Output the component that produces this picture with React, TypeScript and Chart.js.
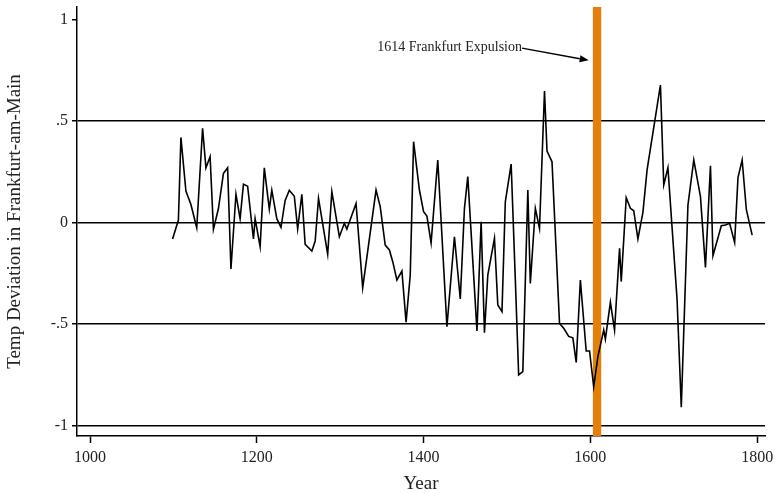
import React, { useEffect, useRef } from 'react';
import { Chart, registerables } from 'chart.js';

Chart.register(...registerables);

// ---- data ----
const years = [
  1099, 1106, 1109, 1115, 1121, 1128, 1135, 1139, 1144, 1148,
  1154, 1160, 1165, 1169, 1175, 1180, 1184, 1189, 1196, 1198,
  1204, 1209, 1215, 1218, 1224, 1229, 1234, 1239, 1245, 1249,
  1254, 1258, 1266, 1270, 1274, 1285, 1290, 1299, 1305, 1308,
  1319, 1327, 1343, 1348, 1354, 1359, 1363, 1368, 1374, 1379,
  1384, 1388, 1395, 1400, 1404, 1409, 1417, 1428, 1437, 1444,
  1449, 1453, 1464, 1469, 1473, 1477, 1485, 1489, 1494, 1498,
  1505, 1510, 1514, 1519, 1525, 1528, 1534, 1539, 1545, 1548,
  1554, 1563, 1568, 1574, 1579, 1583, 1588, 1595, 1599, 1604,
  1609, 1616, 1618, 1624, 1629, 1635, 1637, 1643, 1648, 1652,
  1657, 1663, 1668, 1684, 1688, 1693, 1704, 1709, 1717, 1724,
  1732, 1738, 1744, 1747, 1757, 1762, 1767, 1773, 1777, 1782,
  1787, 1794,
];
const temps = [
  -0.08, 0.013, 0.42, 0.156, 0.09, -0.025, 0.465, 0.27, 0.325, -0.033,
  0.07, 0.243, 0.27, -0.228, 0.14, 0.02, 0.19, 0.18, -0.08, 0.02,
  -0.118, 0.27, 0.067, 0.16, 0.02, -0.023, 0.11, 0.16, 0.13, -0.03,
  0.14, -0.107, -0.14, -0.09, 0.12, -0.155, 0.153, -0.069, -0.003, -0.031,
  0.095, -0.32, 0.161, 0.079, -0.11, -0.134, -0.192, -0.282, -0.238, -0.49,
  -0.258, 0.399, 0.161, 0.054, 0.033, -0.099, 0.309, -0.512, -0.069, -0.376,
  0.071, 0.227, -0.533, 0.005, -0.542, -0.258, -0.077, -0.405, -0.438, 0.103,
  0.289, -0.28, -0.75, -0.734, 0.161, -0.299, 0.071, -0.028, 0.649, 0.353,
  0.3, -0.496, -0.52, -0.56, -0.567, -0.688, -0.282, -0.632, -0.632, -0.808,
  -0.66, -0.529, -0.574, -0.392, -0.529, -0.126, -0.29, 0.123, 0.071, 0.059,
  -0.08, 0.051, 0.26, 0.678, 0.186, 0.271, -0.381, -0.909, 0.087, 0.309,
  0.128, -0.22, 0.281, -0.162, -0.015, -0.011, -0.003, -0.098, 0.222, 0.309,
  0.066, -0.061,
];
const xTicks = [1000, 1200, 1400, 1600, 1800];
const yTicks = [-1, -0.5, 0, 0.5, 1];
const yTickLabels = ['-1', '-.5', '0', '.5', '1'];
const noGridAt = [1];
const eventBand = [1603, 1613];
const eventLabel = '1614 Frankfurt Expulsion';
const arrowFrom = [1518, 0.86];
const arrowTo = [1598, 0.8];

const FONT = "'Liberation Serif', 'DejaVu Serif', serif";
const TEXT = '#222';
const ORANGE = 'rgb(228,128,10)';

const annotationPlugin = {
  id: 'expulsion',
  beforeDatasetsDraw(chart: any) {
    const { ctx, chartArea, scales } = chart;
    const x0 = scales.x.getPixelForValue(eventBand[0]);
    const x1 = scales.x.getPixelForValue(eventBand[1]);
    ctx.save();
    ctx.fillStyle = ORANGE;
    ctx.fillRect(x0, chartArea.top, x1 - x0, chartArea.bottom - chartArea.top);
    ctx.restore();
  },
  afterDatasetsDraw(chart: any) {
    const { ctx, scales } = chart;
    const ax = scales.x.getPixelForValue(arrowFrom[0]);
    const ay = scales.y.getPixelForValue(arrowFrom[1]);
    const bx = scales.x.getPixelForValue(arrowTo[0]);
    const by = scales.y.getPixelForValue(arrowTo[1]);
    ctx.save();
    ctx.font = `14px ${FONT}`;
    ctx.fillStyle = TEXT;
    ctx.textAlign = 'right';
    ctx.textBaseline = 'middle';
    ctx.fillText(eventLabel, ax, ay - 1);
    ctx.strokeStyle = '#000';
    ctx.lineWidth = 1.5;
    const ang = Math.atan2(by - ay, bx - ax);
    const hl = 9;
    const hw = 3.5;
    const baseX = bx - hl * Math.cos(ang);
    const baseY = by - hl * Math.sin(ang);
    ctx.beginPath();
    ctx.moveTo(ax, ay);
    ctx.lineTo(baseX, baseY);
    ctx.stroke();
    ctx.fillStyle = '#000';
    ctx.beginPath();
    ctx.moveTo(bx, by);
    ctx.lineTo(baseX + hw * Math.sin(ang), baseY - hw * Math.cos(ang));
    ctx.lineTo(baseX - hw * Math.sin(ang), baseY + hw * Math.cos(ang));
    ctx.closePath();
    ctx.fill();
    ctx.restore();
  },
};

export default function App() {
  const ref = useRef<HTMLCanvasElement | null>(null);
  useEffect(() => {
    if (!ref.current) return;
    const chart = new Chart(ref.current, {
      type: 'line',
      data: {
        datasets: [
          {
            data: years.map((y, i) => ({ x: y, y: temps[i] })),
            borderColor: '#000',
            borderWidth: 1.6,
            pointRadius: 0,
            tension: 0,
            fill: false,
          },
        ],
      },
      options: {
        responsive: false,
        animation: false,
        devicePixelRatio: 1,
        layout: { padding: { left: 0, right: 10, top: 7, bottom: 0 } },
        plugins: { legend: { display: false }, tooltip: { enabled: false } },
        scales: {
          x: {
            type: 'linear',
            min: 984.4,
            max: 1809.4,
            afterBuildTicks: (s: any) => {
              s.ticks = xTicks.map((v) => ({ value: v }));
            },
            afterFit: (s: any) => {
              s.height = 58;
              s.paddingLeft = 0;
              s.paddingRight = 0;
            },
            ticks: {
              callback: (v: any) => String(v),
              font: { family: FONT, size: 16 },
              color: TEXT,
              padding: 5,
              maxRotation: 0,
              autoSkip: false,
            },
            grid: {
              drawOnChartArea: false,
              drawTicks: true,
              tickLength: 7,
              tickColor: '#000',
              tickWidth: 1.5,
            },
            border: { color: '#000', width: 1.5 },
            title: {
              display: true,
              text: 'Year',
              font: { family: FONT, size: 19, lineHeight: 1.05 },
              color: TEXT,
              padding: { top: 0, bottom: 0 },
            },
          },
          y: {
            type: 'linear',
            min: -1.0507,
            max: 1.0626,
            afterBuildTicks: (s: any) => {
              s.ticks = yTicks.map((v) => ({ value: v }));
            },
            afterFit: (s: any) => {
              s.width = 77;
              s.paddingTop = 0;
              s.paddingBottom = 0;
            },
            ticks: {
              callback: (v: any) => {
                const i = yTicks.indexOf(Number(v));
                return i >= 0 ? yTickLabels[i] : '';
              },
              font: { family: FONT, size: 16 },
              color: TEXT,
              padding: 4,
              autoSkip: false,
            },
            grid: {
              color: (c: any) => (noGridAt.includes(c.tick?.value) ? 'rgba(0,0,0,0)' : '#000'),
              lineWidth: 1.5,
              drawTicks: true,
              tickLength: 5,
              tickColor: '#000',
              tickWidth: 1.5,
            },
            border: { color: '#000', width: 1.5 },
            title: {
              display: true,
              text: 'Temp Deviation in Frankfurt-am-Main',
              font: { family: FONT, size: 19, lineHeight: 1.05 },
              color: TEXT,
              padding: { top: 5, bottom: 0 },
            },
          },
        },
      },
      plugins: [annotationPlugin],
    });
    return () => chart.destroy();
  }, []);
  return (
    <div style={{ position: 'absolute', left: 0, top: 0, width: 775, height: 494, background: '#fff' }}>
      <canvas ref={ref} width={775} height={494} style={{ display: 'block' }} />
    </div>
  );
}
